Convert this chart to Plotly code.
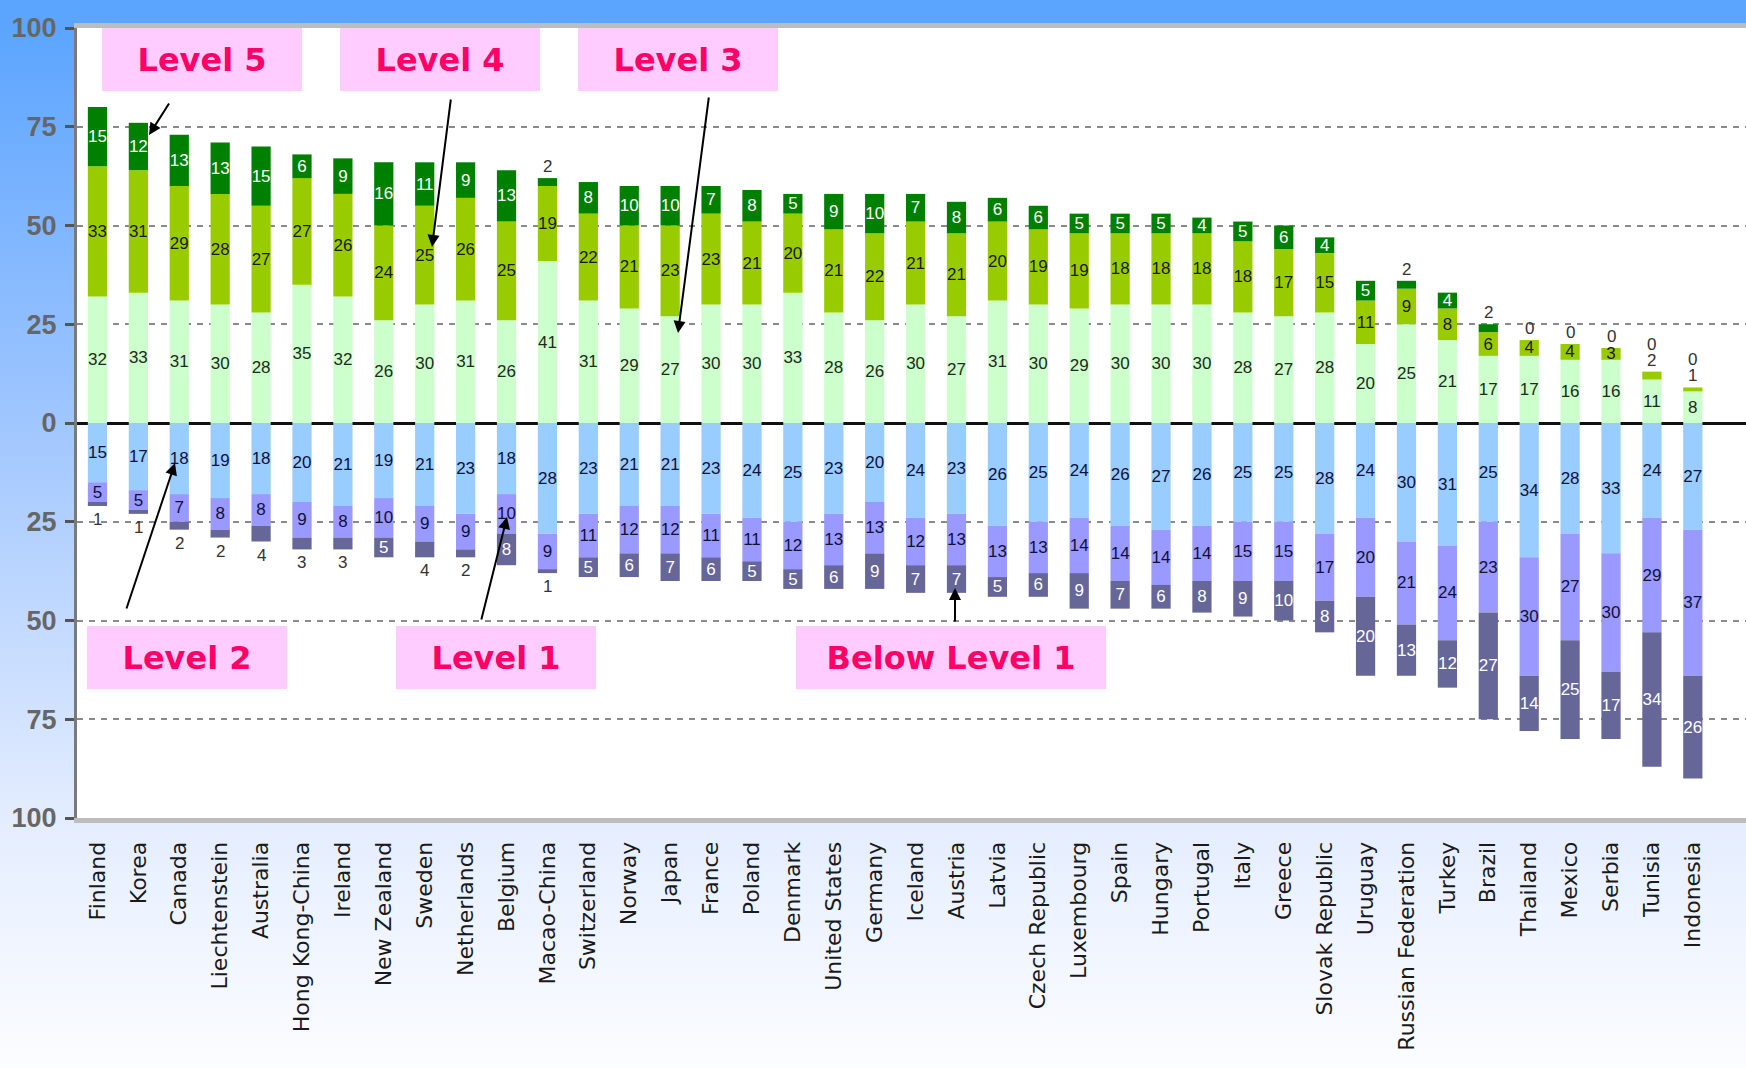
import plotly.graph_objects as go

countries = ["Finland", "Korea", "Canada", "Liechtenstein", "Australia", "Hong Kong-China",
             "Ireland", "New Zealand", "Sweden", "Netherlands", "Belgium", "Macao-China",
             "Switzerland", "Norway", "Japan", "France", "Poland", "Denmark", "United States",
             "Germany", "Iceland", "Austria", "Latvia", "Czech Republic", "Luxembourg", "Spain",
             "Hungary", "Portugal", "Italy", "Greece", "Slovak Republic", "Uruguay",
             "Russian Federation", "Turkey", "Brazil", "Thailand", "Mexico", "Serbia",
             "Tunisia", "Indonesia"]

level3 = [32, 33, 31, 30, 28, 35, 32, 26, 30, 31, 26, 41, 31, 29, 27, 30, 30, 33, 28, 26,
          30, 27, 31, 30, 29, 30, 30, 30, 28, 27, 28, 20, 25, 21, 17, 17, 16, 16, 11, 8]
level4 = [33, 31, 29, 28, 27, 27, 26, 24, 25, 26, 25, 19, 22, 21, 23, 23, 21, 20, 21, 22,
          21, 21, 20, 19, 19, 18, 18, 18, 18, 17, 15, 11, 9, 8, 6, 4, 4, 3, 2, 1]
level5 = [15, 12, 13, 13, 15, 6, 9, 16, 11, 9, 13, 2, 8, 10, 10, 7, 8, 5, 9, 10,
          7, 8, 6, 6, 5, 5, 5, 4, 5, 6, 4, 5, 2, 4, 2, 0, 0, 0, 0, 0]
level2 = [15, 17, 18, 19, 18, 20, 21, 19, 21, 23, 18, 28, 23, 21, 21, 23, 24, 25, 23, 20,
          24, 23, 26, 25, 24, 26, 27, 26, 25, 25, 28, 24, 30, 31, 25, 34, 28, 33, 24, 27]
level1 = [5, 5, 7, 8, 8, 9, 8, 10, 9, 9, 10, 9, 11, 12, 12, 11, 11, 12, 13, 13,
          12, 13, 13, 13, 14, 14, 14, 14, 15, 15, 17, 20, 21, 24, 23, 30, 27, 30, 29, 37]
below1 = [1, 1, 2, 2, 4, 3, 3, 5, 4, 2, 8, 1, 5, 6, 7, 6, 5, 5, 6, 9,
          7, 7, 5, 6, 9, 7, 6, 8, 9, 10, 8, 20, 13, 12, 27, 14, 25, 17, 34, 26]

y_tickvals = [100, 75, 50, 25, 0, -25, -50, -75, -100]
y_ticktext = ["100", "75", "50", "25", "0", "25", "50", "75", "100"]

W, H = 1746, 1068
ML, MT, MB = 77, 28, 250
PW, PH = W - ML, H - MT - MB

NUM_FONT = "Liberation Sans Narrow, Arial Narrow, Arial, sans-serif"


def paper(px, py):
    return (px - ML) / PW, (H - MB - py) / PH


fig = go.Figure()


def add_bar(name, vals, sign, color, txtcolor, hide_small=None):
    texts = []
    for v in vals:
        if hide_small is not None and v <= hide_small:
            texts.append("")
        else:
            texts.append(str(v))
    fig.add_trace(go.Bar(
        x=countries, y=[sign * v for v in vals], name=name,
        marker=dict(color=color, line=dict(width=0)),
        text=texts, textposition="inside", insidetextanchor="middle",
        textangle=0, constraintext="none",
        textfont=dict(color=txtcolor, size=17, family=NUM_FONT),
    ))


add_bar("Level 3", level3, 1, "#CCFFCC", "#1e2a1e")
add_bar("Level 4", level4, 1, "#99CC00", "#1a1a00", hide_small=2)
add_bar("Level 5", level5, 1, "#008000", "#ffffff", hide_small=2)
add_bar("Level 2", level2, -1, "#99CCFF", "#10103a")
add_bar("Level 1", level1, -1, "#9999FF", "#10103a")
add_bar("Below Level 1", below1, -1, "#666699", "#ffffff", hide_small=4)

annotations = []
# outside labels for small segments
for i, c in enumerate(countries):
    top = level3[i] + level4[i] + level5[i]
    shift = 0
    if level4[i] <= 2:
        annotations.append(dict(x=c, y=top, xref="x", yref="y", text=str(level4[i]),
                                showarrow=False, yanchor="bottom", yshift=shift,
                                font=dict(family=NUM_FONT, size=17, color="#333")))
        shift += 16
    if level5[i] <= 2:
        annotations.append(dict(x=c, y=top, xref="x", yref="y", text=str(level5[i]),
                                showarrow=False, yanchor="bottom", yshift=shift,
                                font=dict(family=NUM_FONT, size=17, color="#333")))
    bottom = -(level2[i] + level1[i] + below1[i])
    if below1[i] <= 4:
        annotations.append(dict(x=c, y=bottom, xref="x", yref="y", text=str(below1[i]),
                                showarrow=False, yanchor="top", yshift=-2,
                                font=dict(family=NUM_FONT, size=17, color="#333")))

# pink level boxes
boxes = [("Level 5", 102, 28, 200), ("Level 4", 340, 28, 200), ("Level 3", 578, 28, 200),
         ("Level 2", 87, 626, 200), ("Level 1", 396, 626, 200), ("Below Level 1", 796, 626, 310)]
for txt, bx, by, bw in boxes:
    xp, yp = paper(bx, by)
    annotations.append(dict(x=xp, y=yp, xref="paper", yref="paper", xanchor="left", yanchor="top",
                            text="<b>" + txt + "</b>", showarrow=False, width=bw, height=63,
                            bgcolor="#FFCCFF", borderpad=0, borderwidth=0, align="center",
                            valign="middle",
                            font=dict(family="Comic Sans MS, DejaVu Sans, sans-serif", size=32,
                                      color="#FF0066")))

# arrows (head px, tail px)
arrows = [((149, 135), (170, 102)), ((432, 247), (451, 98)), ((678, 333), (709, 96)),
          ((175, 463), (126, 610)), ((507, 517), (481, 621)), ((955, 588), (955, 623))]
for (hx, hy), (tx, ty) in arrows:
    xp, yp = paper(hx, hy)
    annotations.append(dict(x=xp, y=yp, xref="paper", yref="paper", text="", showarrow=True,
                            ax=tx - hx, ay=ty - hy, arrowhead=2, arrowsize=1.2, arrowwidth=2,
                            arrowcolor="#000000", standoff=0))


# background gradient (paper) around the white plot area
def lerp(stops, p):
    for (p0, c0), (p1, c1) in zip(stops, stops[1:]):
        if p0 <= p <= p1:
            t = (p - p0) / (p1 - p0) if p1 > p0 else 0
            return tuple(int(round(a + (b - a) * t)) for a, b in zip(c0, c1))
    return stops[-1][1]


stops = [(0, (92, 165, 255)), (28, (92, 165, 255)), (420, (160, 198, 255)),
         (818, (228, 237, 255)), (1068, (252, 253, 255))]
shapes = []
step = 8
for py in range(0, H, step):
    r, g, b = lerp(stops, py + step / 2)
    x0, y1 = paper(0, py)
    x1, y0 = paper(W, py + step + 1)
    shapes.append(dict(type="rect", xref="paper", yref="paper", x0=x0, x1=x1, y0=y0, y1=y1,
                       fillcolor=f"rgb({r},{g},{b})", line=dict(width=0), layer="below"))
shapes.append(dict(type="rect", xref="paper", yref="paper", x0=0, x1=1, y0=0, y1=1,
                   fillcolor="#ffffff", line=dict(width=0), layer="below"))

fig.update_layout(
    width=W, height=H,
    margin=dict(l=ML, r=0, t=MT, b=MB, pad=0),
    barmode="relative", bargap=0.53,
    paper_bgcolor="#ffffff", plot_bgcolor="#ffffff",
    showlegend=False,
    annotations=annotations, shapes=shapes,
    xaxis=dict(type="category", range=[-0.5, 40.3], showgrid=False, zeroline=False,
               showline=True, linecolor="#BDBDBD", linewidth=5, mirror=True,
               ticks="", tickangle=-90, ticklabelstandoff=10,
               tickfont=dict(family="DejaVu Sans, Arial, sans-serif", size=22, color="#1a1a1a")),
    yaxis=dict(range=[-100, 100], tickvals=y_tickvals, ticktext=y_ticktext,
               showgrid=True, gridcolor="#8a8a8a", gridwidth=2, griddash="6px,6px",
               zeroline=True, zerolinecolor="#111111", zerolinewidth=3,
               showline=True, linecolor="#7a7a7a", linewidth=3,
               ticks="outside", ticklen=9, tickwidth=3, tickcolor="#555555",
               ticklabelstandoff=3,
               tickfont=dict(family=NUM_FONT, size=27, color="#666666", weight="bold")),
)

fig.write_html("out.html")
